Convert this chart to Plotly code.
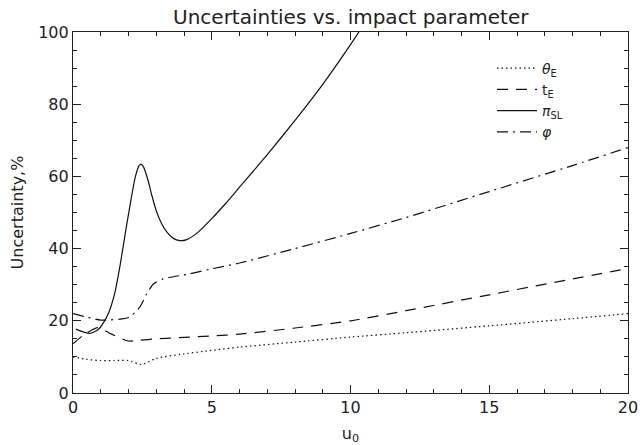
import plotly.graph_objects as go

# theta_E (dotted)
x_theta = [0.0, 0.5, 1.0, 1.5, 2.0, 2.47, 3.0, 3.86, 5.0, 6.0, 8.0, 10.0, 12.0, 15.0, 18.0, 20.0]
y_theta = [10.0, 9.3, 9.0, 9.0, 9.0, 7.9, 9.6, 10.7, 11.8, 12.7, 14.1, 15.5, 16.7, 18.6, 20.6, 22.0]

# t_E (dashed)
x_tE = [0.0, 0.4, 0.9, 1.39, 2.0, 2.4, 3.0, 4.0, 5.0, 6.0, 8.0, 10.0, 12.0, 15.0, 18.0, 20.0]
y_tE = [13.6, 16.2, 18.1, 16.3, 14.4, 14.6, 15.0, 15.4, 15.8, 16.3, 18.0, 20.0, 22.8, 27.2, 31.6, 34.5]

# pi_SL (solid)
x_pi = [0.1, 0.6, 0.9, 1.1, 1.3, 1.5, 1.7, 1.9, 2.1, 2.25, 2.38, 2.45, 2.55, 2.7, 2.85, 3.0, 3.2, 3.4,
        3.6, 3.85, 4.1, 4.5, 5.0, 5.5, 6.0, 6.5, 7.0, 8.0, 9.0, 10.0, 10.6]
y_pi = [17.7, 16.5, 17.5, 19.5, 22.5, 27.5, 35.5, 45.0, 54.0, 60.0, 63.0, 63.4, 62.5, 59.0, 54.5, 50.5, 46.8, 44.4,
        42.9, 42.2, 42.5, 44.5, 48.3, 52.5, 57.0, 61.5, 66.0, 75.5, 85.5, 96.5, 103.5]

# phi (dash-dot)
x_phi = [0.0, 0.5, 1.0, 2.0, 2.4, 2.65, 2.9, 3.25, 4.2, 5.0, 6.0, 8.0, 10.0, 12.0, 15.0, 18.0, 20.0]
y_phi = [22.0, 21.0, 20.2, 20.9, 23.7, 27.4, 30.2, 31.6, 33.0, 34.4, 36.0, 40.0, 44.2, 48.6, 55.8, 63.0, 68.0]

x_major = [0, 5, 10, 15, 20]
y_major = [0, 20, 40, 60, 80, 100]

names = ["<i>θ</i><sub>E</sub>", "t<sub>E</sub>", "<i>π</i><sub>SL</sub>", "<i>φ</i>"]
dashes = ["1.5px,3px", "11px,8px", "solid", "11px,5px,2px,5px"]

FONT = "DejaVu Sans"
INK = "#111"
AX = "#222"

fig = go.Figure()
for xs, ys, nm, dsh in zip([x_theta, x_tE, x_pi, x_phi], [y_theta, y_tE, y_pi, y_phi], names, dashes):
    fig.add_trace(go.Scatter(
        x=xs, y=ys, mode="lines", name=nm,
        line=dict(color=INK, width=1.2, dash=dsh, shape="spline", smoothing=0.6),
    ))

axis_common = dict(
    showgrid=False, zeroline=False, showline=True, linecolor=AX, linewidth=1.2,
    mirror="allticks", ticks="inside", ticklen=8, tickwidth=1.3, tickcolor=AX,
    tickfont=dict(family=FONT, size=16, color="#222"), automargin=False,
)

fig.update_xaxes(range=[0, 20], tickmode="array", tickvals=x_major,
                 minor=dict(dtick=1, tick0=0, ticks="inside", ticklen=4, tickwidth=1.2, tickcolor=AX, showgrid=False),
                 title=dict(text="u<sub>0</sub>", font=dict(family=FONT, size=16, color="#222"), standoff=12),
                 **axis_common)
fig.update_yaxes(range=[0, 100], tickmode="array", tickvals=y_major,
                 minor=dict(dtick=5, tick0=0, ticks="inside", ticklen=4, tickwidth=1.2, tickcolor=AX, showgrid=False),
                 title=dict(text="Uncertainty,%", font=dict(family=FONT, size=16, color="#222"), standoff=10),
                 **axis_common)

fig.update_layout(
    width=640, height=445,
    margin=dict(l=73, r=12, t=32, b=52),
    plot_bgcolor="white", paper_bgcolor="white",
    title=dict(text="Uncertainties vs. impact parameter", x=0.548, xanchor="center",
               y=0.962, yanchor="middle", font=dict(family=FONT, size=20, color="#222")),
    legend=dict(x=0.755, y=0.943, xanchor="left", yanchor="top", bgcolor="rgba(0,0,0,0)",
                font=dict(family=FONT, size=14, color="#222"), tracegroupgap=0, itemwidth=40),
)

fig.write_html("out.html")
